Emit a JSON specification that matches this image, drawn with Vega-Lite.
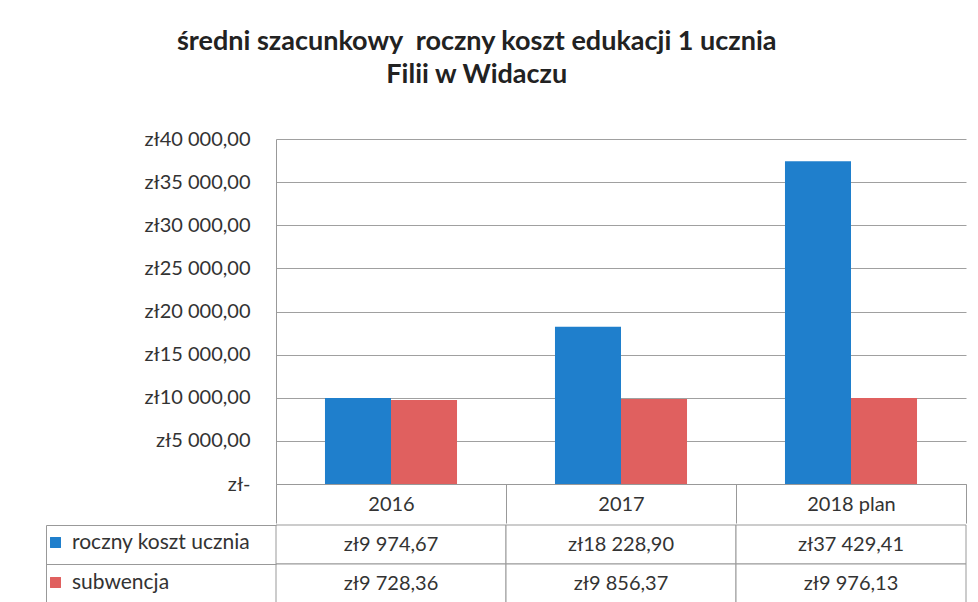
{
  "$schema": "https://vega.github.io/schema/vega-lite/v6.json",
  "padding": {"left": 45, "top": 28, "right": 13, "bottom": 2},
  "background": "white",
  "config": {
    "font": "Lato",
    "view": {"stroke": null},
    "concat": {"spacing": 0},
    "locale": {"number": {"decimal": ",", "thousands": " ", "grouping": [3], "currency": ["zł", ""]}}
  },
  "title": {
    "text": ["średni szacunkowy\u00a0 roczny koszt edukacji 1 ucznia", "Filii w Widaczu"],
    "fontSize": 27,
    "fontWeight": "bold",
    "color": "#222222",
    "anchor": "middle",
    "lineHeight": 33,
    "offset": 40,
    "dx": -29
  },
  "datasets": {
    "costs": [
      {"rok": "2016", "seria": "roczny koszt ucznia", "kwota": 9974.67},
      {"rok": "2016", "seria": "subwencja", "kwota": 9728.36},
      {"rok": "2017", "seria": "roczny koszt ucznia", "kwota": 18228.90},
      {"rok": "2017", "seria": "subwencja", "kwota": 9856.37},
      {"rok": "2018 plan", "seria": "roczny koszt ucznia", "kwota": 37429.41},
      {"rok": "2018 plan", "seria": "subwencja", "kwota": 9976.13}
    ]
  },
  "data": {"name": "costs"},
  "vconcat": [
    {
      "width": 690,
      "height": 345,
      "mark": {"type": "bar"},
      "encoding": {
        "x": {
          "field": "rok", "type": "nominal", "sort": null,
          "scale": {"paddingInner": 0, "paddingOuter": 0},
          "axis": {
            "title": null, "labelAngle": 0, "labelFontSize": 20, "labelColor": "#333333",
            "domainColor": "#999999", "tickColor": "#999999", "tickBand": "extent", "tickSize": 39,
            "labelPadding": -29, "grid": false
          }
        },
        "xOffset": {
          "field": "seria", "type": "nominal", "sort": ["roczny koszt ucznia", "subwencja"],
          "scale": {"paddingInner": 0, "paddingOuter": 0.742}
        },
        "y": {
          "field": "kwota", "type": "quantitative",
          "scale": {"domain": [0, 40000], "nice": false},
          "axis": {
            "title": null,
            "values": [0, 5000, 10000, 15000, 20000, 25000, 30000, 35000, 40000],
            "format": "$,.2f",
            "labelExpr": "datum.value == 0 ? 'zł-' : datum.label",
            "labelFontSize": 20, "labelColor": "#333333", "labelPadding": 26,
            "ticks": false, "domainColor": "#999999", "gridColor": "#a0a0a0", "gridWidth": 1
          }
        },
        "color": {
          "field": "seria", "type": "nominal", "sort": ["roczny koszt ucznia", "subwencja"],
          "scale": {"range": ["#1F7FCC", "#E0605F"]},
          "legend": {
            "title": null, "orient": "none", "legendX": -231, "legendY": 393,
            "symbolType": "square", "symbolSize": 120, "symbolStrokeWidth": 0,
            "labelFontSize": 21, "labelColor": "#333333", "rowPadding": 18, "labelOffset": 6,
            "labelLimit": 300
          }
        }
      }
    },
    {
      "width": 690,
      "height": 78,
      "encoding": {
        "x": {"field": "rok", "type": "nominal", "sort": null, "scale": {"paddingInner": 0, "paddingOuter": 0}, "axis": null},
        "y": {
          "field": "seria", "type": "nominal", "sort": ["roczny koszt ucznia", "subwencja"],
          "scale": {"paddingInner": 0, "paddingOuter": 0},
          "axis": {
            "title": null, "labels": false, "offset": 230, "domainColor": "#999999",
            "tickColor": "#999999", "tickBand": "extent", "tickSize": -230
          }
        }
      },
      "layer": [
        {"mark": {"type": "rect", "fill": "white", "stroke": "#999999", "strokeWidth": 1}},
        {
          "mark": {"type": "text", "fontSize": 20, "color": "#333333"},
          "encoding": {"text": {"field": "kwota", "type": "quantitative", "format": "$,.2f"}}
        }
      ]
    }
  ]
}
